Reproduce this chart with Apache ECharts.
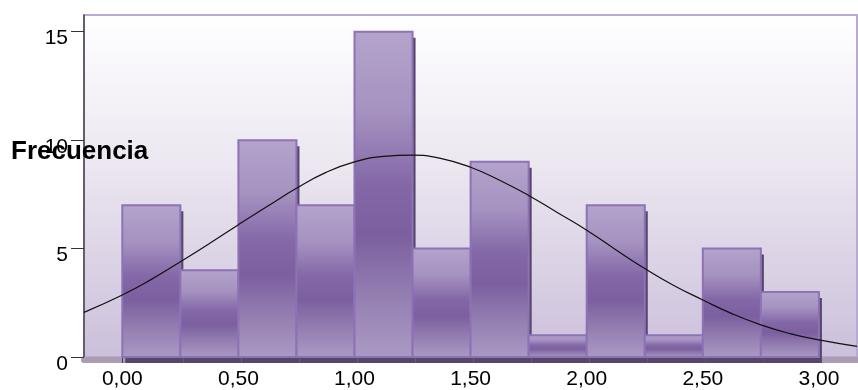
<!DOCTYPE html>
<html>
<head>
<meta charset="utf-8">
<script src="https://cdn.jsdelivr.net/npm/echarts@6/dist/echarts.min.js"></script>
<style>
  html, body { margin: 0; padding: 0; background: #fff; }
  #chart { width: 858px; height: 390px; }
</style>
</head>
<body>
<div id="chart"></div>
<script>
// histogram bins (width 0.25) and counts
const binStarts = [0, 0.25, 0.5, 0.75, 1.0, 1.25, 1.5, 1.75, 2.0, 2.25, 2.5, 2.75];
const binWidth = 0.25;
const counts = [7, 4, 10, 7, 15, 5, 9, 1, 7, 1, 5, 3];

// normal curve
const curveX = [-0.165, 0, 0.125, 0.25, 0.375, 0.5, 0.625, 0.75, 0.875, 1.0, 1.125, 1.25, 1.375, 1.5, 1.625, 1.75, 1.875, 2.0, 2.125, 2.25, 2.375, 2.5, 2.625, 2.75, 2.875, 3.0, 3.164];
const curveY = [2.06, 2.86, 3.58, 4.39, 5.23, 6.1, 6.95, 7.78, 8.5, 9.0, 9.25, 9.31, 9.15, 8.75, 8.15, 7.45, 6.65, 5.85, 4.95, 4.08, 3.3, 2.63, 2.0, 1.48, 1.08, 0.79, 0.49];

const xTicks = [0, 0.5, 1.0, 1.5, 2.0, 2.5, 3.0];
const yTicks = [0, 5, 10, 15];

const font = 'Liberation Sans';

const chart = echarts.init(document.getElementById('chart'));

const barFill = new echarts.graphic.LinearGradient(0, 0, 0, 1, [
  { offset: 0, color: '#b4a4cc' },
  { offset: 0.25, color: '#a592c0' },
  { offset: 0.47, color: '#8367a7' },
  { offset: 0.62, color: '#7b5f9f' },
  { offset: 0.82, color: '#9580b2' },
  { offset: 1, color: '#ab9ac5' }
]);

const option = {
  animation: false,
  title: {
    text: 'Frecuencia',
    left: 11,
    top: 139,
    padding: 0,
    textStyle: { fontFamily: font, fontSize: 26, fontWeight: 'bold', color: '#000' }
  },
  grid: {
    left: 84, right: 1, top: 15, bottom: 31,
    show: true,
    borderColor: '#b9aad3',
    borderWidth: 2,
    backgroundColor: {
      type: 'linear', x: 0, y: 0, x2: 0, y2: 1,
      colorStops: [
        { offset: 0, color: '#ffffff' },
        { offset: 0.45, color: '#ebe6f0' },
        { offset: 1, color: '#cbbfda' }
      ]
    }
  },
  xAxis: [
    {
      type: 'value',
      min: -0.165,
      max: 3.164,
      splitLine: { show: false },
      axisLine: { onZero: false, lineStyle: { color: '#3a3340', width: 1 } },
      axisTick: { customValues: xTicks, length: 6, lineStyle: { color: '#4a3d5c' } },
      axisLabel: {
        customValues: xTicks,
        margin: 12,
        fontFamily: font,
        fontSize: 21,
        color: '#000',
        formatter: (v) => v.toFixed(2).replace('.', ',')
      }
    },
    {
      type: 'value',
      position: 'bottom',
      offset: 3,
      min: -0.165,
      max: 3.164,
      splitLine: { show: false },
      axisLine: { onZero: false, lineStyle: { color: '#a99cb3', width: 6 } },
      axisTick: { show: false },
      axisLabel: { show: false }
    }
  ],
  yAxis: {
    type: 'value',
    min: 0,
    max: 15.77,
    splitLine: { show: false },
    axisLine: { show: true, onZero: false, lineStyle: { color: '#4a4052', width: 1.5 } },
    axisTick: { show: true, customValues: yTicks, length: 13, lineStyle: { color: '#333' } },
    axisLabel: {
      customValues: yTicks,
      margin: 16,
      verticalAlign: 'top',
      lineHeight: 14,
      fontFamily: font,
      fontSize: 21,
      color: '#000'
    }
  },
  series: [
    {
      type: 'custom',
      clip: false,
      data: binStarts.map((s, i) => [s, s + binWidth, counts[i]]),
      renderItem: (params, api) => {
        const p0 = api.coord([api.value(0), api.value(2)]);
        const p1 = api.coord([api.value(1), 0]);
        const w = p1[0] - p0[0];
        const h = p1[1] - p0[1];
        return {
          type: 'group',
          children: [
            {
              type: 'rect',
              shape: { x: p0[0] + 3, y: p0[1] + 6, width: w, height: h },
              style: { fill: '#56466c' }
            },
            {
              type: 'rect',
              shape: { x: p0[0], y: p0[1], width: w, height: h },
              style: { fill: barFill, stroke: '#8d72b6', lineWidth: 2 }
            }
          ]
        };
      }
    },
    {
      type: 'line',
      smooth: true,
      symbol: 'none',
      z: 5,
      data: curveX.map((x, i) => [x, curveY[i]]),
      lineStyle: { color: '#111', width: 1.2 }
    }
  ]
};

chart.setOption(option);
</script>
</body>
</html>
